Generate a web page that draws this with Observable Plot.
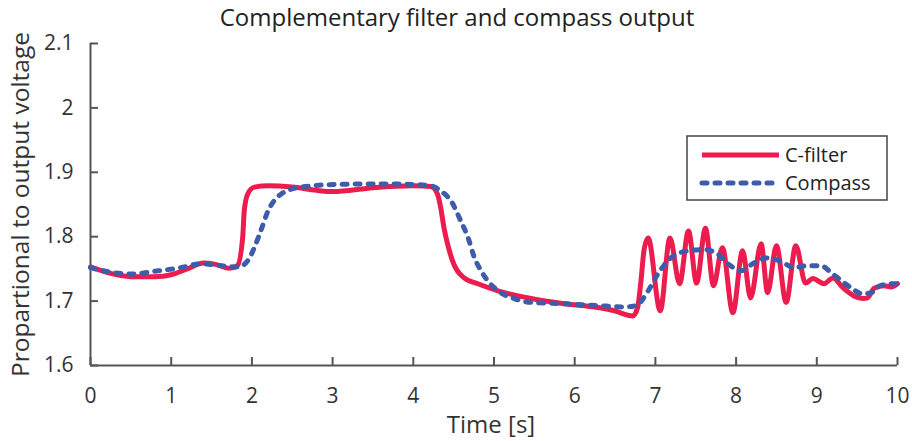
<!DOCTYPE html>
<html><head><meta charset="utf-8">
<script src="https://cdn.jsdelivr.net/npm/d3@7"></script>
<script src="https://cdn.jsdelivr.net/npm/@observablehq/plot@0.6"></script>
<style>
body{margin:0;background:#fff;}
#chart{position:relative;width:912px;height:441px;}
</style></head><body><div id="chart"></div>
<script>
const title = "Complementary filter and compass output";
const xLabel = "Time [s]";
const yLabel = "Propartional to output voltage";
const seriesNames = ["C-filter", "Compass"];
const xTicks = [0,1,2,3,4,5,6,7,8,9,10];
const yTicks = [1.6,1.7,1.8,1.9,2,2.1];

const cfilterT = [0,0.25,0.5,0.8,1.0,1.2,1.4,1.55,1.72,1.82,1.886,1.905,1.947,2.03,2.2,2.5,2.8,3.0,3.5,4.0,4.22,4.30,4.34,4.38,4.43,4.50,4.63,4.80,5.05,5.46,5.87,6.29,6.49,6.72,6.78,6.82,6.86,6.91,7.06,7.18,7.30,7.41,7.51,7.62,7.72,7.83,7.96,8.08,8.18,8.31,8.39,8.50,8.62,8.74,8.86,8.95,9.09,9.20,9.33,9.46,9.57,9.63,9.71,9.83,9.92,10.0];
const cfilterV = [1.753,1.743,1.738,1.738,1.741,1.750,1.759,1.757,1.751,1.755,1.799,1.840,1.866,1.877,1.879,1.877,1.872,1.870,1.876,1.879,1.878,1.866,1.845,1.814,1.786,1.758,1.736,1.727,1.716,1.704,1.696,1.690,1.685,1.677,1.690,1.730,1.780,1.798,1.685,1.798,1.727,1.809,1.728,1.813,1.724,1.783,1.682,1.778,1.705,1.789,1.713,1.786,1.698,1.786,1.728,1.735,1.727,1.736,1.720,1.708,1.704,1.705,1.720,1.724,1.722,1.727];

const compassT = [0,0.29,0.50,0.84,1.12,1.37,1.62,1.83,1.95,2.03,2.11,2.20,2.27,2.36,2.61,3.02,3.60,4.01,4.22,4.34,4.47,4.59,4.68,4.75,4.84,4.92,5.05,5.25,5.46,5.87,6.29,6.61,6.76,6.91,7.04,7.19,7.40,7.60,7.77,7.93,8.06,8.22,8.39,8.55,8.72,8.89,9.05,9.18,9.30,9.42,9.57,9.69,9.79,9.94,10.0];
const compassV = [1.752,1.744,1.742,1.747,1.752,1.758,1.755,1.753,1.763,1.783,1.809,1.840,1.855,1.866,1.877,1.881,1.882,1.881,1.879,1.871,1.855,1.824,1.798,1.770,1.747,1.732,1.716,1.704,1.698,1.696,1.693,1.691,1.693,1.716,1.744,1.767,1.778,1.780,1.773,1.755,1.747,1.759,1.767,1.762,1.752,1.755,1.755,1.744,1.732,1.721,1.711,1.714,1.724,1.727,1.727];

const colors = ["#ec1c4e", "#3d5daa"];
const cfilter = cfilterT.map((t, i) => ({t, v: cfilterV[i]}));
const compass = compassT.map((t, i) => ({t, v: compassV[i]}));

const font = "'Open Sans', sans-serif";
const axisColor = "#555";
const dash = "5,8";

const plot = Plot.plot({
  width: 912, height: 441,
  marginLeft: 90, marginRight: 15, marginTop: 43, marginBottom: 76,
  style: {fontFamily: font, color: "#333", background: "#fff"},
  x: {domain: [0, 10]},
  y: {domain: [1.6, 2.1]},
  marks: [
    Plot.axisX({ticks: xTicks, tickSize: -8, tickPadding: 31, fontSize: 21, label: null, stroke: axisColor, strokeWidth: 2, tickFormat: d3.format("~g")}),
    Plot.axisY({ticks: yTicks, tickSize: -8, tickPadding: 25, fontSize: 21, label: null, stroke: axisColor, strokeWidth: 2, tickFormat: d3.format("~g")}),
    Plot.ruleX([xTicks[0]], {stroke: axisColor, strokeWidth: 2}),
    Plot.ruleY([yTicks[0]], {stroke: axisColor, strokeWidth: 2}),
    Plot.line(cfilter, {x: "t", y: "v", stroke: colors[0], strokeWidth: 5, curve: "monotone-x"}),
    Plot.line(compass, {x: "t", y: "v", stroke: colors[1], strokeWidth: 5, curve: "monotone-x", strokeDasharray: dash, strokeLinecap: "round"}),
    Plot.text([title], {text: d => d, frameAnchor: "top", textAnchor: "middle", lineAnchor: "middle", dy: -25, dx: -37, fontSize: 24, fill: "#222"}),
    Plot.text([xLabel], {text: d => d, frameAnchor: "bottom", textAnchor: "middle", lineAnchor: "middle", dy: 60, dx: -3, fontSize: 24, fill: "#333"}),
    Plot.text([yLabel], {text: d => d, frameAnchor: "left", textAnchor: "middle", lineAnchor: "middle", rotate: -90, dx: -69, fontSize: 24.5, fill: "#333"})
  ]
});
document.getElementById("chart").appendChild(plot);

// legend
const svg = d3.select(plot);
const lg = svg.append("g").attr("font-family", font).attr("font-size", 20).attr("fill", "#222").attr("text-anchor", "start");
lg.append("rect").attr("x", 687).attr("y", 136).attr("width", 200).attr("height", 64)
  .attr("fill", "#fff").attr("stroke", "#444").attr("stroke-width", 1.5);
seriesNames.forEach((name, i) => {
  const y = 155 + i * 28;
  const l = lg.append("line").attr("x1", 702).attr("x2", 779).attr("y1", y).attr("y2", y)
    .attr("stroke", colors[i]).attr("stroke-width", 5);
  if (i === 1) l.attr("stroke-dasharray", dash).attr("stroke-linecap", "round");
  lg.append("text").attr("x", 785).attr("y", y).attr("dy", "0.36em").text(name);
});
</script></body></html>
